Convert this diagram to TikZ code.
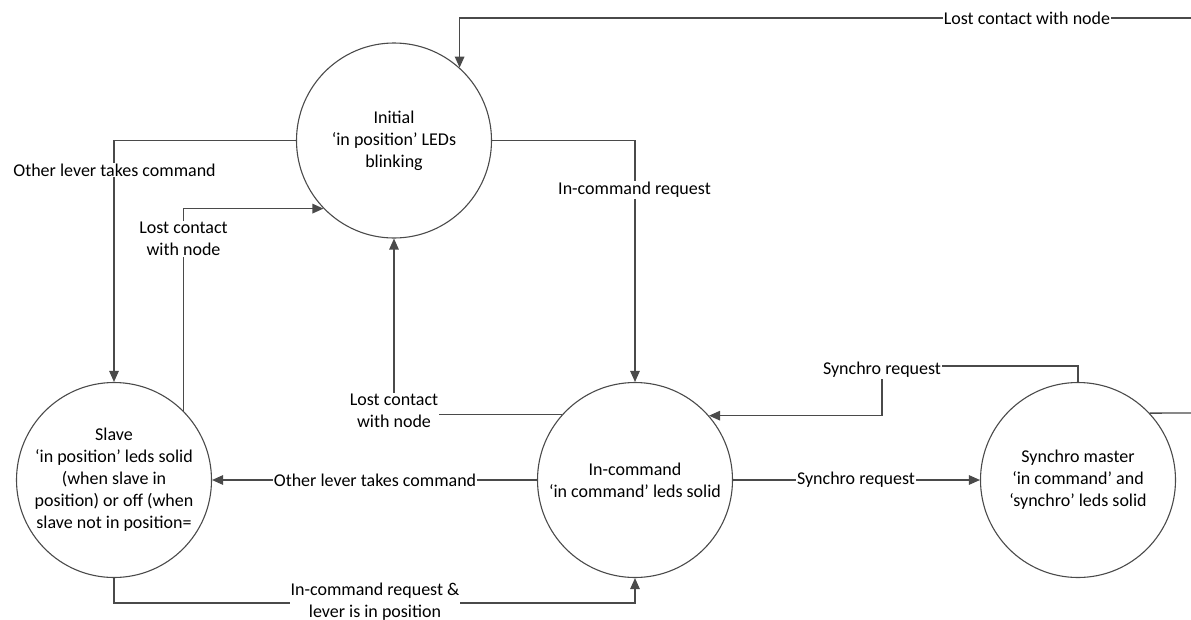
\documentclass[tikz,border=0pt]{standalone}
\usepackage{fontspec}
\setmainfont{Carlito}
\usetikzlibrary{arrows.meta}
\definecolor{ln}{HTML}{4A4A4A}
\tikzset{
  state/.style={circle, draw=ln, line width=1.1pt, minimum size=195pt, inner sep=0pt, align=center},
  conn/.style={draw=ln, line width=1.3pt},
  arr/.style={conn, -{Triangle[length=11pt,width=9.5pt]}},
  lbl/.style={fill=white, inner sep=1pt, align=center}
}
\begin{document}
\begin{tikzpicture}[x=1pt, y=-1pt, font=\fontsize{18}{22}\selectfont]
\useasboundingbox (0,0) rectangle (1191,619);

% states
\node[state] (init) at (394,140.5) {Initial\\‘in position’ LEDs\\blinking};
\node[state] (slave) at (114,480) {Slave\\‘in position’ leds solid\\(when slave in\\position) or off (when\\slave not in position=};
\node[state] (incmd) at (635,480) {In-command\\‘in command’ leds solid};
\node[state] (sm) at (1078,480) {Synchro master\\‘in command’ and\\‘synchro’ leds solid};

% free ends and corners
\coordinate (topR) at (1191,18);
\coordinate (smR) at (1191,413);
\coordinate (bot) at (375,603);
\coordinate (syc) at (882,366);

% connectors
\draw[arr] (topR) -| (init.48.6);
\draw[arr] (init.west) -| (slave.north);
\draw[arr] (slave.45) |- (init.224);
\draw[arr] (incmd.138) -| (init.south);
\draw[arr] (init.east) -| (incmd.north);
\draw[arr] (incmd.west) -- (slave.east);
\draw[arr] (slave.south) |- (bot) -| (incmd.south);
\draw[arr] (incmd.east) -- (sm.west);
\draw[conn] (sm.north) |- (syc);
\draw[arr] (syc) |- (incmd.41);
\draw[conn] (sm.43.4) -- (smR);

% labels
\node[lbl] (l1) at (1027,18) {Lost contact with node};
\node[lbl] (l2) at (114.5,170) {Other lever takes command};
\node[lbl] (l3) at (183.5,239) {Lost contact\\with node};
\node[lbl] (l4) at (394,411) {Lost contact\\with node};
\node[lbl] (l5) at (634.5,190) {In-command request};
\node[lbl] (l6) at (375,480) {Other lever takes command};
\node[lbl] (l7) at (375,602) {In-command request \&\\lever is in position};
\node[lbl] (l8) at (856,480) {Synchro request};
\node[lbl] (l9) at (882,370) {Synchro request};
\end{tikzpicture}
\end{document}
